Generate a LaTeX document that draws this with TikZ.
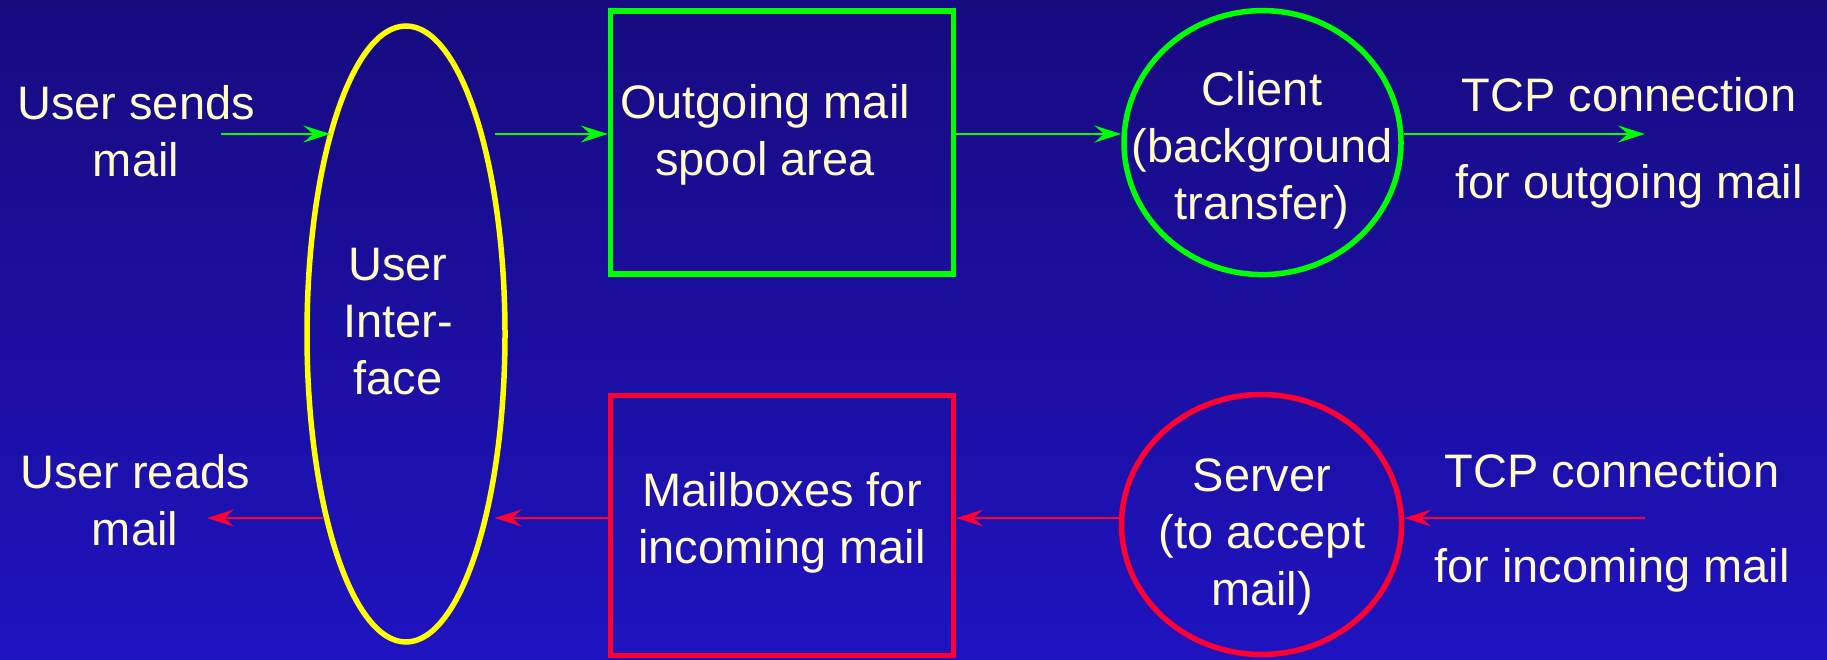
\documentclass[tikz,border=0pt]{standalone}
\usepackage{fontspec}
\setmainfont{Liberation Sans}
\usetikzlibrary{arrows.meta,shapes.geometric,calc}

\definecolor{bgtop}{RGB}{23,11,128}
\definecolor{bgbottom}{RGB}{31,19,192}
\definecolor{labeltext}{RGB}{255,251,200}
\definecolor{outgreen}{RGB}{0,255,0}
\definecolor{inred}{RGB}{255,0,51}
\definecolor{uiyellow}{RGB}{255,255,0}

\tikzset{
  % anchor=base sits on the baseline of the last line
  txt/.style={text=labeltext, align=center, inner sep=0pt, anchor=base,
              font=\fontsize{47}{57}\selectfont},
  shapeline/.style={line width=5.5pt},
  uishape/.style={shapeline, draw=uiyellow, ellipse, inner sep=0pt},
  boxshape/.style={shapeline, rectangle, inner sep=0pt},
  procshape/.style={shapeline, ellipse, inner sep=0pt},
  flow/.style={line width=2.6pt,
               -{Stealth[length=27pt,width=17pt,inset=10pt]}},
  outflow/.style={flow, draw=outgreen, fill=outgreen},
  inflow/.style={flow, draw=inred, fill=inred},
}

\begin{document}
\begin{tikzpicture}[x=1pt,y=-1pt]
  % background with vertical gradient
  \shade[top color=bgtop, bottom color=bgbottom] (0,0) rectangle (1827,660);
  \useasboundingbox (0,0) rectangle (1827,660);

  % shapes
  \node[uishape, minimum width=198pt, minimum height=616pt] (ui) at (406,334) {};
  \node[boxshape, draw=outgreen, minimum width=343pt, minimum height=263pt] (outbox) at (782,142.5) {};
  \node[boxshape, draw=inred, minimum width=343pt, minimum height=260pt] (inbox) at (782,525.5) {};
  \node[procshape, draw=outgreen, minimum width=277pt, minimum height=264pt] (client) at (1262.5,142.6) {};
  \node[procshape, draw=inred, minimum width=280pt, minimum height=260pt] (server) at (1261.5,524.5) {};

  % labels
  \node[txt] (sends) at (136,177) {User sends\\mail};
  \node[txt] (reads) at (135,545) {User reads\\mail};
  \node[txt] (uitext) at (398,394) {User\\Inter-\\face};
  \node[txt] (outtext) at (765,176) {Outgoing mail\\spool area};
  \node[txt] (intext) at (782,563) {Mailboxes for\\incoming mail};
  \node[txt] (clienttext) at (1262,220) {Client\\(background\\transfer)};
  \node[txt] (servertext) at (1262,605) {Server\\(to accept\\mail)};
  \node[txt] (tcpout) at (1629,199) {TCP connection\\[30pt]for outgoing mail};
  \node[txt] (tcpin) at (1612,582) {TCP connection\\[38pt]for incoming mail};

  % free ends of the flows
  \coordinate (sendsA) at (221,134);
  \coordinate (outA) at (1645,134);
  \coordinate (inA) at (1645,518);
  \coordinate (readsA) at (207,518);

  % outgoing path
  \draw[outflow] (sendsA) -- (ui.110.6 |- sendsA);
  \draw[outflow, shorten <=-13pt] (ui.east |- sendsA) -- (outbox.west |- sendsA);
  \draw[outflow] (outbox.east |- sendsA) -- (client.west |- sendsA);
  \draw[outflow] (client.east |- sendsA) -- (outA);

  % incoming path
  \draw[inflow] (inA) -- (server.east |- inA);
  \draw[inflow] (server.west |- inA) -- (inbox.east |- inA);
  \draw[inflow, shorten >=-13pt] (inbox.west |- inA) -- (ui.east |- inA);
  \draw[inflow] (ui.-115 |- inA) -- (readsA);
\end{tikzpicture}
\end{document}
